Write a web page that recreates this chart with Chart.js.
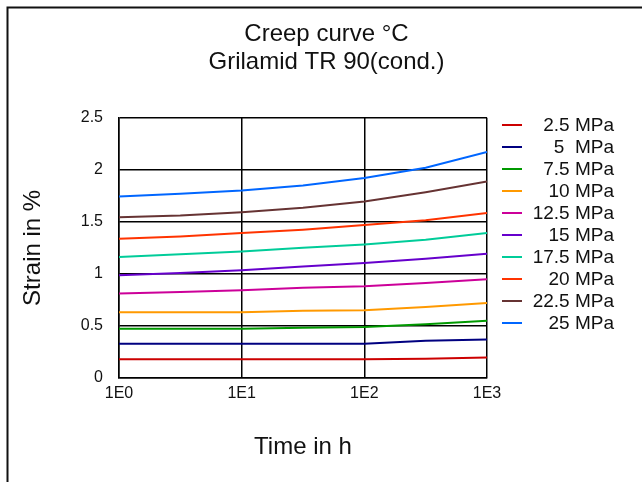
<!DOCTYPE html>
<html>
<head>
<meta charset="utf-8">
<script src="https://cdn.jsdelivr.net/npm/chart.js@4.4.1/dist/chart.umd.min.js"></script>
<style>
  html, body { margin: 0; padding: 0; background: #fff; }
  #wrap { width: 643px; height: 482px; position: relative; }
</style>
</head>
<body>
<div id="wrap"><canvas id="creepChart"></canvas></div>
<script>
// Data for the chart
const times = [1, 3.16, 10, 31.6, 100, 316, 1000];
const seriesLabels = ["2.5 MPa", "5  MPa", "7.5 MPa", "10 MPa", "12.5 MPa", "15 MPa", "17.5 MPa", "20 MPa", "22.5 MPa", "25 MPa"];
const strain2_5 = [0.18, 0.18, 0.18, 0.18, 0.18, 0.186, 0.198];
const strain5 = [0.33, 0.33, 0.33, 0.33, 0.33, 0.357, 0.37];
const strain7_5 = [0.472, 0.472, 0.474, 0.483, 0.489, 0.517, 0.55];
const strain10 = [0.632, 0.632, 0.632, 0.645, 0.651, 0.683, 0.721];
const strain12_5 = [0.811, 0.827, 0.843, 0.866, 0.881, 0.912, 0.948];
const strain15 = [0.987, 1.009, 1.034, 1.071, 1.105, 1.145, 1.194];
const strain17_5 = [1.162, 1.188, 1.216, 1.251, 1.283, 1.328, 1.392];
const strain20 = [1.338, 1.36, 1.392, 1.424, 1.469, 1.515, 1.584];
const strain22_5 = [1.545, 1.561, 1.593, 1.635, 1.695, 1.785, 1.887];
const strain25 = [1.743, 1.769, 1.80, 1.849, 1.92, 2.02, 2.17];
const seriesColors = ["#cc0000", "#000080", "#009900", "#ff9900", "#cc0099", "#6600cc", "#00cc99", "#ff3300", "#663333", "#0066ff"];
const xTicks = [1, 10, 100, 1000];
const xTickLabels = ["1E0", "1E1", "1E2", "1E3"];
const yTicks = [0, 0.5, 1, 1.5, 2, 2.5];

const allSeries = [strain2_5, strain5, strain7_5, strain10, strain12_5, strain15, strain17_5, strain20, strain22_5, strain25];

const data = {
  datasets: allSeries.map((vals, i) => ({
    label: seriesLabels[i],
    data: times.map((t, j) => ({ x: t, y: vals[j] })),
    borderColor: seriesColors[i],
    backgroundColor: seriesColors[i],
    borderWidth: 2,
    pointRadius: 0,
    tension: 0,
    fill: false
  }))
};

// border of the picture and the legend on the right
const framePlugin = {
  id: 'frame',
  beforeDraw(chart) {
    const ctx = chart.ctx;
    ctx.save();
    ctx.strokeStyle = '#111';
    ctx.lineWidth = 2;
    ctx.beginPath();
    ctx.moveTo(642, 7.5);
    ctx.lineTo(7.5, 7.5);
    ctx.lineTo(7.5, 482);
    ctx.stroke();
    ctx.restore();
  },
  afterDraw(chart) {
    const ctx = chart.ctx;
    ctx.save();
    ctx.font = '19px "Liberation Sans", Arial, sans-serif';
    ctx.textAlign = 'right';
    ctx.textBaseline = 'middle';
    chart.data.datasets.forEach((ds, i) => {
      const y = 125 + i * 22;
      ctx.strokeStyle = ds.borderColor;
      ctx.lineWidth = 2;
      ctx.beginPath();
      ctx.moveTo(502, y);
      ctx.lineTo(522, y);
      ctx.stroke();
      ctx.fillStyle = '#111';
      ctx.fillText(ds.label, 614, y + 1);
    });
    ctx.restore();
  }
};

const font = '"Liberation Sans", Arial, sans-serif';

const config = {
  type: 'line',
  data: data,
  plugins: [framePlugin],
  options: {
    responsive: true,
    maintainAspectRatio: false,
    animation: false,
    layout: { padding: { left: 10, right: 0, top: 0, bottom: 0 } },
    plugins: {
      legend: { display: false },
      tooltip: { enabled: false },
      title: {
        display: true,
        text: ["Creep curve °C", "Grilamid TR 90(cond.)"],
        color: '#111',
        font: { family: font, size: 24, weight: 'normal', lineHeight: 1.14 },
        padding: { top: 21, bottom: 42 }
      }
    },
    scales: {
      x: {
        type: 'logarithmic',
        min: 1,
        max: 1000,
        afterBuildTicks: (scale) => { scale.ticks = xTicks.map(v => ({ value: v })); },
        afterFit: (scale) => { scale.height = 104; },
        ticks: {
          color: '#111',
          font: { family: font, size: 16 },
          padding: 6,
          maxRotation: 0,
          autoSkip: false,
          callback: (value) => xTickLabels[xTicks.indexOf(value)]
        },
        grid: { color: '#000', lineWidth: 1.5, drawTicks: false },
        border: { color: '#000', width: 1.5 },
        title: {
          display: true,
          text: 'Time in h',
          color: '#111',
          font: { family: font, size: 24 },
          padding: { top: 0, bottom: 20 }
        }
      },
      y: {
        min: 0,
        max: 2.5,
        afterBuildTicks: (scale) => { scale.ticks = yTicks.map(v => ({ value: v })); },
        afterFit: (scale) => { scale.width = 109; },
        ticks: {
          color: '#111',
          font: { family: font, size: 16 },
          padding: 16,
          callback: (value) => String(value)
        },
        grid: { color: '#000', lineWidth: 1.5, drawTicks: false },
        border: { color: '#000', width: 1.5 },
        title: {
          display: true,
          text: 'Strain in %',
          color: '#111',
          font: { family: font, size: 24 },
          padding: { top: 9, bottom: 0 }
        }
      },
      // empty axis that keeps the space for the legend on the right
      yRight: {
        position: 'right',
        display: true,
        afterFit: (scale) => { scale.width = 156; },
        ticks: { display: false },
        grid: { display: false, drawOnChartArea: false },
        border: { display: false }
      }
    }
  }
};

// Create the chart
window.addEventListener('DOMContentLoaded', () => {
  new Chart(document.getElementById('creepChart'), config);
});
</script>
</body>
</html>
